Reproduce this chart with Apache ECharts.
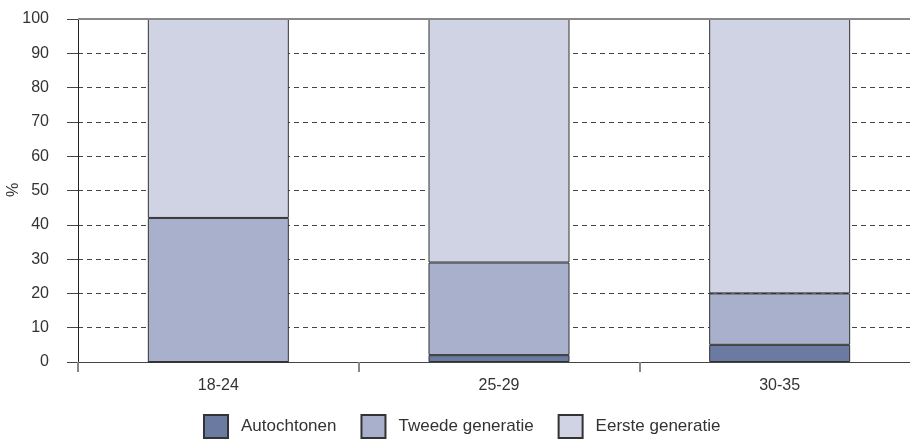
<!DOCTYPE html>
<html>
<head>
<meta charset="utf-8">
<script src="https://cdn.jsdelivr.net/npm/echarts@6/dist/echarts.min.js"></script>
<style>
  html, body { margin: 0; padding: 0; background: #fff; }
  #chart { width: 910px; height: 442px; }
</style>
</head>
<body>
<div id="chart"></div>
<script>
var categories = ["18-24", "25-29", "30-35"];
var autochtonen = [0, 2, 5];
var tweedeGeneratie = [42, 27, 15];
var eersteGeneratie = [58, 71, 80];
var yTicks = [0, 10, 20, 30, 40, 50, 60, 70, 80, 90, 100];
var yName = "%";

var font = "Arial, 'Liberation Sans', Helvetica, sans-serif";
var border = { borderColor: "#333", borderWidth: 1 };

var myChart = echarts.init(document.getElementById("chart"));

var option = {
	animation: false,
	textStyle: { fontFamily: font },
	grid: { left: 78, top: 19, width: 842, height: 343, containLabel: false, outerBoundsMode: "none" },
	// as-naam los geplaatst, anders schuift v6 hem tegen de rand
	graphic: [{
		type: "text", x: 14, y: 190, rotation: Math.PI / 2,
		style: { text: yName, fontSize: 16, fill: "#333", font: "16px " + font, align: "center", verticalAlign: "middle" }
	}],
	legend: {
		left: 203, top: 414, padding: 0,
		itemWidth: 24, itemHeight: 23, itemGap: 24,
		icon: "rect",
		textStyle: { fontSize: 17, color: "#333", padding: [4, 0, 0, 8] },
		data: ["Autochtonen", "Tweede generatie", "Eerste generatie"]
	},
	xAxis: {
		type: "category",
		data: categories,
		axisLine: { lineStyle: { color: "#444", width: 1 } },
		axisTick: { show: true, length: 10, lineStyle: { color: "#888", width: 2 } },
		axisLabel: { fontSize: 16, color: "#333", margin: 16 }
	},
	yAxis: {
		type: "value",
		min: yTicks[0], max: yTicks[yTicks.length - 1], interval: 10,
		axisLine: { show: true, lineStyle: { color: "#222", width: 1 } },
		axisTick: { show: true, length: 11, lineStyle: { color: "#444" } },
		axisLabel: { fontSize: 16, color: "#333", margin: 29 },
		splitLine: { show: true, lineStyle: { color: "#444", type: [5, 4], width: 1 } }
	},
	series: [
		{
			name: "Autochtonen", type: "bar", stack: "t", barWidth: 141,
			data: autochtonen,
			itemStyle: Object.assign({ color: "#6b7aa1" }, border)
		},
		{
			name: "Tweede generatie", type: "bar", stack: "t", barWidth: 141,
			data: tweedeGeneratie,
			itemStyle: Object.assign({ color: "#a9b0cc" }, border)
		},
		{
			name: "Eerste generatie", type: "bar", stack: "t", barWidth: 141,
			data: eersteGeneratie,
			itemStyle: Object.assign({ color: "#d0d3e3" }, border),
			markLine: {
				silent: true, symbol: "none", label: { show: false },
				lineStyle: { color: "#888", type: "solid", width: 2 },
				data: [{ yAxis: 100 }]
			}
		}
	]
};

myChart.setOption(option);
</script>
</body>
</html>
